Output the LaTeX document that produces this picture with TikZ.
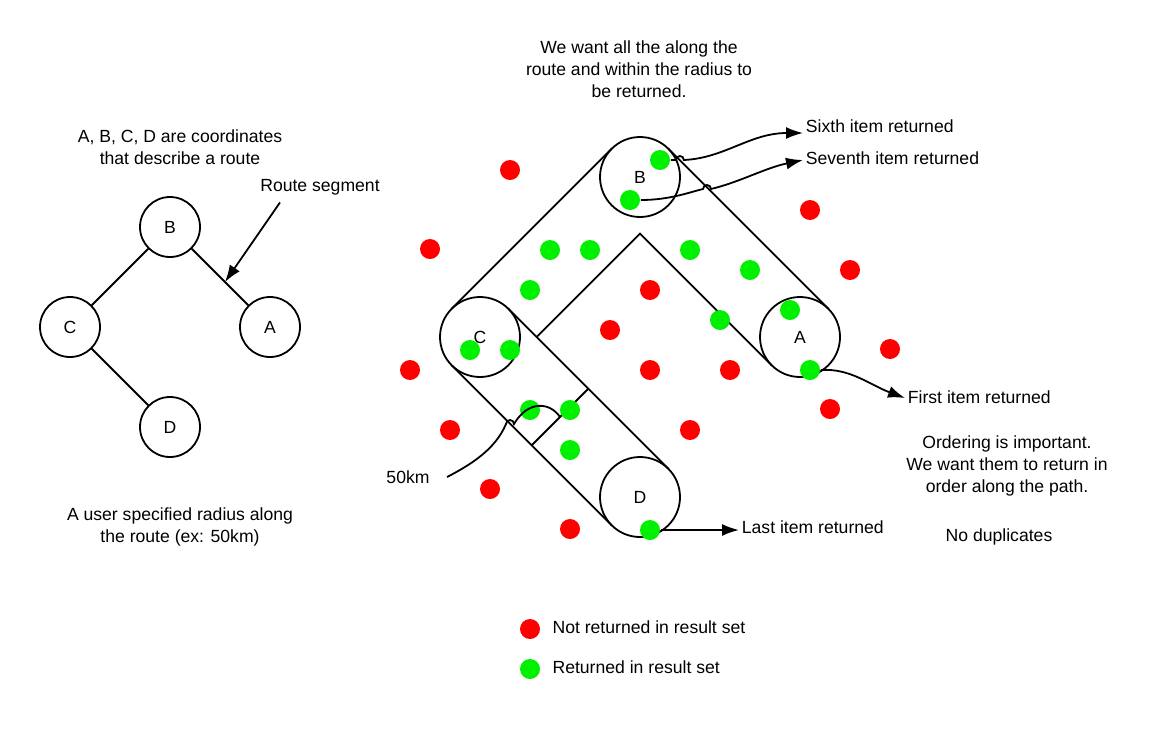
\documentclass[tikz,border=0pt]{standalone}
\usepackage{fontspec}
\setmainfont{Liberation Sans}
\usetikzlibrary{arrows.meta,calc}
\definecolor{notret}{RGB}{255,0,0}
\definecolor{isret}{RGB}{0,240,0}
\tikzset{
  stop/.style={circle,draw,line width=0.9pt,inner sep=0pt},
  small stop/.style={stop,minimum size=30pt},
  big stop/.style={stop,minimum size=40pt},
  red dot/.style={circle,fill=notret,inner sep=0pt,minimum size=10pt},
  green dot/.style={circle,fill=isret,inner sep=0pt,minimum size=10pt},
  lbl/.style={align=center},
  tag/.style={anchor=west,inner sep=1pt},
  ret/.style={-{Latex[length=8.5pt,width=6pt]}},
}
\begin{document}
\begin{tikzpicture}[x=0.5pt,y=-0.5pt,line width=0.9pt,font=\fontsize{8.8}{11}\selectfont]
	\useasboundingbox (0,0) rectangle (1160,740);

	% left: the route itself
	\node[lbl] at (180,147) {A, B, C, D are coordinates\\that describe a route};
	\node[small stop] (lB) at (170,227) {B};
	\node[small stop] (lC) at (70,327) {C};
	\node[small stop] (lA) at (270,327) {A};
	\node[small stop] (lD) at (170,427) {D};
	\draw (lB) -- (lC);
	\draw (lB) -- (lA);
	\draw (lC) -- (lD);
	\node (rs) at (320,187) {Route segment};
	\draw[ret] ([xshift=-20pt]rs.south) -- ($(lB)!0.55!(lA)$);
	\node[lbl] at (180,527) {A user specified radius along\\the route (ex: 50km)};

	% right: the corridor along the route
	\node[lbl] at (639,69) {We want all the along the\\route and within the radius to\\be returned.};
	\node[big stop] (B) at (640,177) {B};
	\node[big stop] (C) at (480,337) {C};
	\node[big stop] (A) at (800,337) {A};
	\node[big stop] (D) at (640,497) {D};

	\draw (611.7,148.7) -- (451.7,308.7);
	\draw (536.6,337) -- (640,233.6) -- (771.7,365.3);
	\draw (668.3,148.7) -- (828.3,308.7);
	\draw (508.3,308.7) -- (668.3,468.7);
	\draw (451.7,365.3) -- (611.7,525.3);
	\draw (531.7,445.3) coordinate (m1) -- (588.3,388.7) coordinate (m2);
	\coordinate (cut) at (560,417);

	\foreach \x/\y in {510/170,430/249,810/210,850/270,650/290,610/330,890/349,410/370,
	                   650/370,730/370,830/409,450/430,690/430,490/489,570/529}
	    \node[red dot] at (\x,\y) {};
	\foreach \x/\y in {550/250,590/250,690/250,750/270,530/290,720/320,790/310,
	                   470/350,510/350,530/410,570/410,570/450}
	    \node[green dot] at (\x,\y) {};
	\node[green dot] (g6) at (660,160) {};
	\node[green dot] (g7) at (630,200) {};
	\node[green dot] (g1) at (810,370) {};
	\node[green dot] (gL) at (650,530) {};

	\node[tag] (sixth) at (803,126) {Sixth item returned};
	\node[tag] (seventh) at (803,158) {Seventh item returned};
	\node[tag] (first) at (905,397) {First item returned};
	\node[tag] (last) at (739,527) {Last item returned};

	\draw[ret] (g6.east) -- ++(5,0) arc[start angle=180,end angle=360,radius=4]
	    .. controls (725,158) and (750,133) .. ([yshift=-3.5pt]sixth.west);
	\draw[ret] (g7.east) .. controls (670,200) and (690,192) .. (703,189)
	    arc[start angle=180,end angle=360,radius=4]
	    .. controls (740,182) and (765,168) .. ([yshift=-1pt]seventh.west);
	\draw[ret] (g1.east) .. controls (850,368) and (870,385) .. ([yshift=-0.5pt]first.west);
	\draw[ret] (gL.east) -- (gL.east -| last.west);

	\node (km) at (408,477) {50km};
	\draw ([xshift=5pt]km.east) .. controls (470,465) and (495,450) .. (506,424)
	    arc[start angle=180,end angle=360,radius=4]
	    .. controls (528,400) and (550,402) .. (cut);

	\node[lbl] at (1007,466) {Ordering is important.\\We want them to return in\\order along the path.};
	\node at (999,537) {No duplicates};

	% legend
	\node[red dot] (kr) at (530,629) {};
	\node[anchor=west] at (545,627) {Not returned in result set};
	\node[green dot] (kg) at (530,669) {};
	\node[anchor=west] at (545,667) {Returned in result set};
\end{tikzpicture}
\end{document}
